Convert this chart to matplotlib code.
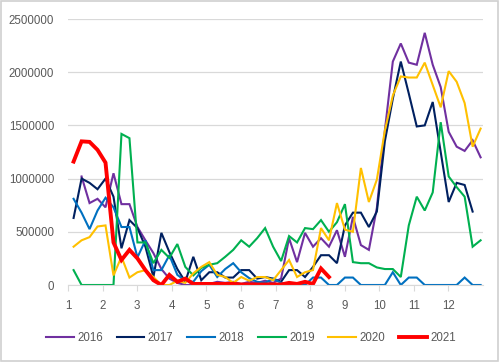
import numpy as np
import matplotlib
matplotlib.use("Agg")
import matplotlib.pyplot as plt
from matplotlib.patches import Rectangle
from matplotlib.ticker import FuncFormatter

nan = np.nan
weeks = np.arange(1, 53)  # weekly points, shown on a month scale

# values in thousands
y2016 = [nan, 1020, 770, 810, 730, 1050, 760, 760, 545, 420, 300, 150, 60, 20, 0, 0, 0, 10, 30, 20,
         30, 10, 30, 20, 40, 20, 60, 440, 215, 490, 360, 440, 360, 515, 265, 640, 375, 330, 725, 1450,
         2100, 2270, 2090, 2070, 2370, 2070, 1860, 1440, 1300, 1260, 1360, 1200]
y2017 = [630, 1000, 960, 900, 1000, 830, 345, 610, 535, 360, 75, 490, 310, 150, 30, 265, 45, 120, 120, 70,
         70, 140, 140, 60, 75, 60, 30, 140, 140, 75, 170, 280, 280, 205, 560, 680, 680, 545, 690, 1350,
         1750, 2100, 1800, 1490, 1500, 1720, 1250, 780, 960, 940, 690, nan]
y2018 = [810, 680, 525, 700, 820, 730, 545, 545, 260, 420, 140, 140, 280, 95, 40, 30, 130, 190, 75, 150,
         205, 120, 65, 30, 20, 60, 20, 0, 0, 0, 70, 70, 0, 0, 70, 70, 0, 0, 0, 0,
         120, 0, 70, 70, 0, 0, 0, 0, 0, 70, 0, 0]
y2019 = [140, 0, 0, 0, 0, 0, 1420, 1380, 400, 400, 205, 330, 255, 385, 170, 90, 160, 190, 205, 265,
         330, 420, 360, 440, 535, 360, 225, 460, 400, 535, 525, 610, 500, 590, 760, 215, 205, 205, 165, 150,
         150, 75, 560, 830, 700, 870, 1530, 1020, 920, 830, 360, 420]
y2020 = [360, 420, 450, 550, 560, 90, 265, 70, 120, 140, 75, 0, 0, 40, 20, 110, 170, 215, 95, 75,
         20, 75, 40, 75, 75, 45, 140, 235, 75, 120, 140, 535, 420, 770, 520, 500, 1100, 780, 990, 1450,
         1780, 1960, 1950, 1950, 2090, 1880, 1670, 2010, 1910, 1710, 1300, 1470]
y2021 = [1160, 1350, 1345, 1270, 1150, 400, 235, 330, 250, 140, 45, 0, 95, 30, 60, 10, 10, 10, 10, 10,
         10, 5, 5, 5, 5, 5, 5, 20, 10, 30, 10, 155, 75]

years = ["2016", "2017", "2018", "2019", "2020", "2021"]
series = [y2016, y2017, y2018, y2019, y2020, y2021]
colors = ["#7030A0", "#002060", "#0070C0", "#00B050", "#FFC000", "#FF0000"]
widths = [1.5, 1.5, 1.5, 1.5, 1.5, 2.8]

month_pos = 1 + (weeks - 0.3) * 12 / 52

plt.rcParams["font.family"] = ["Liberation Sans", "DejaVu Sans"]
fig = plt.figure(figsize=(4.99, 3.62), dpi=100)
ax = fig.add_axes([68 / 499, 77 / 362, 415 / 499, 266 / 362])

for name, vals, c, lw in zip(years, series, colors, widths):
    v = np.array(vals, dtype=float) * 1000
    ax.plot(month_pos[:len(v)], v, color=c, lw=lw, label=name, solid_joinstyle="miter")

ax.set_xlim(1, 13)
ax.set_ylim(0, 2500000)
ax.set_xticks(range(1, 13))
ax.set_yticks(range(0, 2500001, 500000))
ax.yaxis.set_major_formatter(FuncFormatter(lambda v, _: f"{int(v)}"))
ax.yaxis.grid(True, color="#D9D9D9", lw=0.9)
ax.set_axisbelow(True)
for s in ["top", "right", "left"]:
    ax.spines[s].set_visible(False)
ax.spines["bottom"].set_color("#D9D9D9")
ax.tick_params(axis="y", length=0, pad=10, labelsize=8.3, labelcolor="#595959")
ax.tick_params(axis="x", length=4, color="#D9D9D9", pad=7, labelsize=8.3, labelcolor="#595959")

fig.legend(loc="center", bbox_to_anchor=(0.503, 0.066), ncol=6, frameon=False,
           fontsize=8.3, handlelength=2.4, handletextpad=0.3, columnspacing=1.2,
           labelcolor="#595959")

fig.patches.append(Rectangle((0.002, 0.003), 0.996, 0.994, transform=fig.transFigure,
                             fill=False, edgecolor="#D0D0D0", lw=1.2))
fig.savefig("out.png", dpi=100)
